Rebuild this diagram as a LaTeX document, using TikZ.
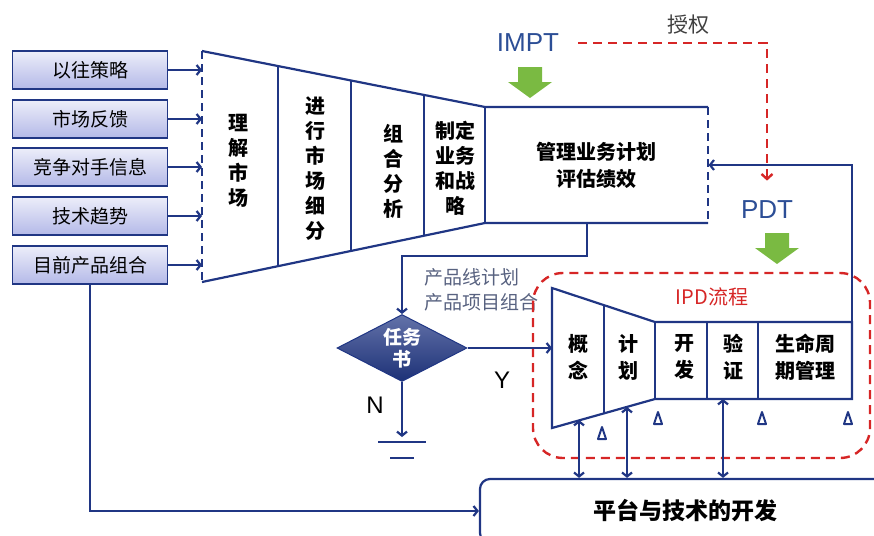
\documentclass[tikz,border=0pt]{standalone}
\usepackage{fontspec}
\setmainfont{Noto Sans CJK SC}
\newfontfamily\latin{Liberation Sans}
\usepackage{tikz}
\usetikzlibrary{shapes.geometric,arrows.meta,calc}
\definecolor{navy}{RGB}{32,54,132}
\definecolor{ipdred}{RGB}{214,38,38}
\definecolor{leaf}{RGB}{122,186,66}
\definecolor{steel}{RGB}{44,78,150}
\definecolor{lav}{RGB}{180,185,232}
\definecolor{slate}{RGB}{88,98,128}

\begin{document}
\begin{tikzpicture}[x = 1pt, y = -1pt, line width = 2.2pt,
    line/.style = {draw = navy},
    arr/.style = {draw = navy, -{Straight Barb[length = 4pt, width = 10pt]}},
    dblarr/.style = {draw = navy, {Straight Barb[length = 4pt, width = 10pt]}-{Straight Barb[length = 4pt, width = 10pt]}},
    inbox/.style = {rectangle, draw = navy, line width = 1.5pt, top color = lav!25, bottom color = lav, minimum width = 155pt, minimum height = 38pt, font = \fontsize{19}{19}\selectfont},
    stage/.style = {align = center, font = \bfseries\fontsize{20}{25}\selectfont},
    ipdstage/.style = {align = center, font = \bfseries\fontsize{20}{27}\selectfont},
    tag/.style = {text = steel, font = \latin\fontsize{26}{26}\selectfont},
    push/.style = {fill = leaf},
    reddash/.style = {draw = ipdred, line width = 2.4pt, dash pattern = on 9pt off 6pt},
    tri/.style = {draw = navy, line width = 2pt, line join = round}]
  \useasboundingbox (0, 0) rectangle (874, 535);
  \clip (0, 0) rectangle (874, 535);

  \node [inbox] (in1) at (90, 70){以往策略};
  \node [inbox] (in2) at (90, 119){市场反馈};
  \node [inbox] (in3) at (90, 167){竞争对手信息};
  \node [inbox] (in4) at (90, 216){技术趋势};
  \node [inbox] (in5) at (90, 265){目前产品组合};

  \coordinate (f1) at (202, 51);
  \coordinate (f2) at (485, 107);
  \coordinate (f3) at (485, 223);
  \coordinate (f4) at (202, 282);
  \draw [line, line width = 1.6pt, dash pattern = on 8pt off 5pt] (f1) -- (f4);
  \draw [line] (f1) -- (f2) -- (708, 107);
  \draw [line] (f4) -- (f3) -- (708, 223);
  \draw [line, dash pattern = on 8pt off 5pt] (708, 107) -- (708, 223);
  \draw [line] (f2) -- (f3);
  \foreach \x in {278, 351, 424}
    \draw [line] ($(f1)!{(\x-202)/283}!(f2)$) -- ($(f4)!{(\x-202)/283}!(f3)$);
  \foreach \i in {1, ..., 5}
    \draw [arr] (in\i.east) -- (in\i.east -| f1);

  \node [stage] (s1) at (238, 161){理\\解\\市\\场};
  \node [stage] (s2) at (315, 169){进\\行\\市\\场\\细\\分};
  \node [stage] (s3) at (393, 171){组\\合\\分\\析};
  \node [stage] (s4) at (455, 168){制定\\业务\\和战\\略};
  \node [ipdstage, minimum width = 223pt, minimum height = 116pt] (mgmt) at (596, 165){管理业务计划\\评估绩效};

  \node [tag] (impt) at (528, 43){IMPT};
  \coordinate (g1) at (530, 82);
  \fill [push] (g1) +(-12, -15) -- +(12, -15) -- +(12, 0) -- +(22, 0) -- +(0, 16) -- +(-22, 0) -- +(-12, 0) -- cycle;
  \node [font = \fontsize{21}{21}\selectfont, text = black!75] (auth) at (688, 25){授权};
  \node [tag] (pdt) at (767, 210){PDT};
  \coordinate (g2) at (777, 248);
  \fill [push] (g2) +(-12, -15) -- +(12, -15) -- +(12, 0) -- +(22, 0) -- +(0, 16) -- +(-22, 0) -- +(-12, 0) -- cycle;
  \draw [reddash, -{Straight Barb[length = 5pt, width = 11pt]}] ([xshift = 15pt]impt.east) -| ([yshift = 16pt]pdt.north);

  \node [font = \fontsize{19}{25}\selectfont, text = slate, align = left, anchor = west] (plan) at (420, 290){产品线计划\\产品项目组合};
  \node [diamond, aspect = 2, inner sep = 0pt, minimum width = 130pt, minimum height = 67pt, top color = navy!70, bottom color = navy!90!black, draw = navy, line width = 1pt, text = white, align = center, font = \bfseries\fontsize{19}{22}\selectfont] (task) at (402, 348){任务\\书};
  \draw [arr] ([xshift = -9pt]mgmt.south) -- ++(0, 32) -| (task.north);

  \draw [reddash, rounded corners = 30pt] (533, 273) rectangle (870, 458);
  \node [font = \fontsize{20}{20}\selectfont, text = ipdred] (ipdtitle) at (712, 297){IPD流程};

  \coordinate (p1) at (552, 288);
  \coordinate (p2) at (655, 322);
  \coordinate (p3) at (655, 399);
  \coordinate (p4) at (552, 428);
  \coordinate (p5) at (852, 322);
  \draw [line] (p1) -- (p2) -- (p5) -- (852, 399) -- (p3) -- (p4) -- cycle;
  \draw [line] (p2) -- (p3);
  \draw [line] ($(p1)!0.505!(p2)$) -- ($(p4)!0.505!(p3)$);
  \draw [line] (707, 322) -- (707, 399);
  \draw [line] (758, 322) -- (758, 399);
  \node [ipdstage] (d1) at (578, 357){概\\念};
  \node [ipdstage] (d2) at (628, 357){计\\划};
  \node [ipdstage] (d3) at (684, 357){开\\发};
  \node [ipdstage] (d4) at (733, 357){验\\证};
  \node [ipdstage] (d5) at (805, 357){生命周\\期管理};
  \foreach \x/\y in {602/433, 658/418, 762/418, 848/418}
    \draw [tri] (\x, \y) +(-4, 6) -- +(0, -6) -- +(4, 6) -- cycle;

  \draw [arr] (task.east) -- (task.east -| p1);
  \node [font = \latin\fontsize{24}{24}\selectfont] (yes) at (502, 380){Y};
  \node [font = \latin\fontsize{24}{24}\selectfont] (no) at (375, 405){N};
  \coordinate (gnd) at (402, 442);
  \draw [arr] (task.south) -- ([yshift = 5pt]gnd);
  \draw [line, line width = 1.6pt] ([xshift = -24pt]gnd) -- ([xshift = 24pt]gnd);
  \draw [line, line width = 1.6pt] ([xshift = -12pt, yshift = -16pt]gnd) -- ([xshift = 12pt, yshift = -16pt]gnd);

  \draw [arr] (p5) |- (mgmt.east);

  \node [draw = navy, rounded corners = 10pt, minimum width = 410pt, minimum height = 64pt, font = \bfseries\fontsize{23}{23}\selectfont] (plat) at (685, 511){平台与技术的开发};
  \coordinate (q1) at (579, 420);
  \coordinate (q2) at (627, 407);
  \coordinate (q3) at (723, 399);
  \foreach \q in {q1, q2, q3}
    \draw [dblarr] (\q) -- (\q |- plat.north);
  \draw [arr] (in5.south) |- (plat.west);
\end{tikzpicture}
\end{document}
